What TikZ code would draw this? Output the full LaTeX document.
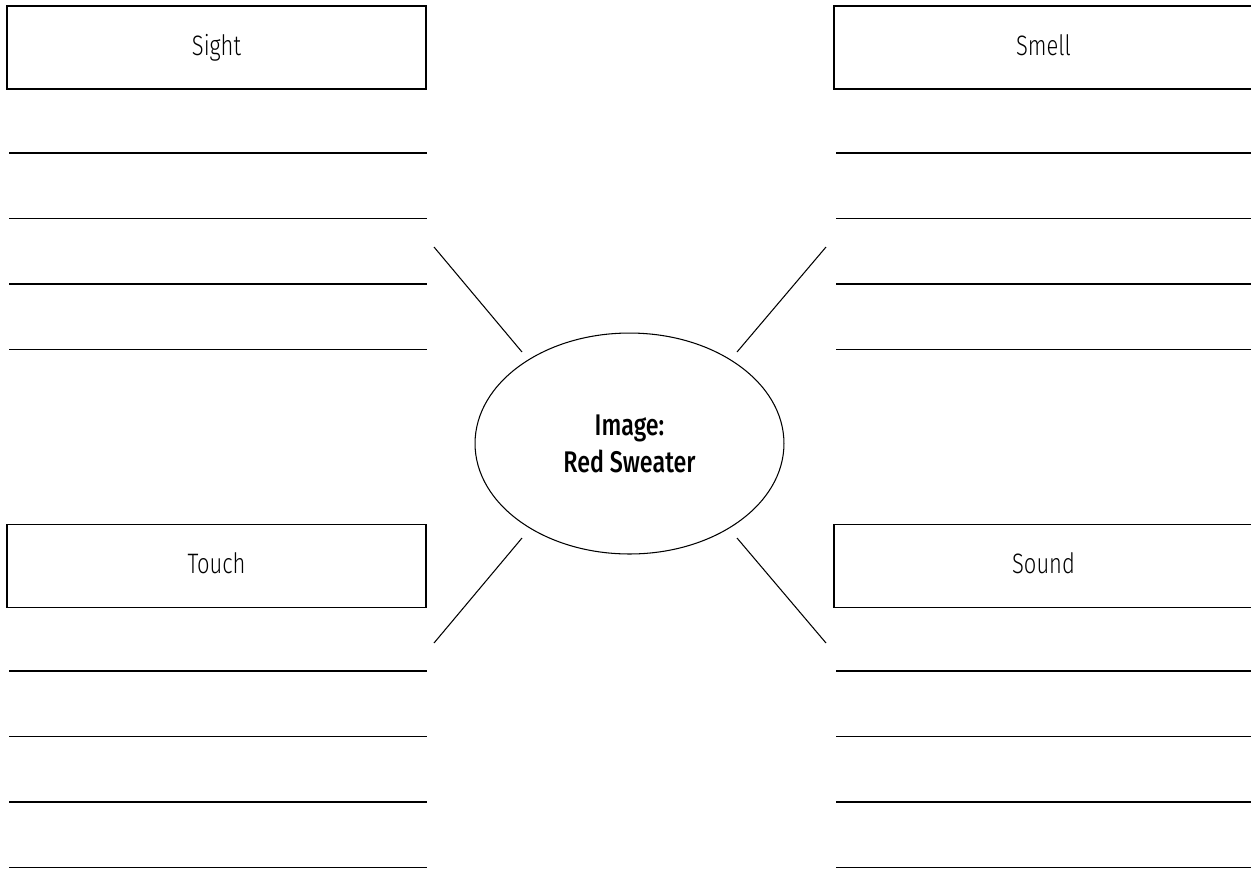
\documentclass[tikz,border=0pt]{standalone}
\usepackage{fontspec}
\setmainfont{Fira Sans}[UprightFont=* Light, BoldFont=* Medium, FakeStretch=0.78]
\usepackage{tikz}
\usetikzlibrary{shapes.geometric}
\newcommand{\inkcolor}{black}
\newcommand{\rulewidth}{0.8pt}
\newcommand{\spokewidth}{0.6pt}
\newcommand{\boxw}{8.38cm}
\newcommand{\boxh}{1.66cm}
\newcommand{\sensefont}{\fontsize{16}{19}\selectfont}

\begin{document}
\begin{tikzpicture}[x=0.02cm, y=-0.02cm]
\useasboundingbox (0,0) rectangle (1251,870);
\clip (0,0) rectangle (1251,870);
%boxes
\node[draw=\inkcolor, line width=\rulewidth, minimum width=\boxw, minimum height=\boxh, text height=0.86em, text depth=0em, font=\sensefont] (sight) at (216.5, 47.5) {Sight};
\node[draw=\inkcolor, line width=\rulewidth, minimum width=\boxw, minimum height=\boxh, text height=0.86em, text depth=0em, font=\sensefont] (smell) at (1043.5, 47.5) {Smell};
\node[draw=\inkcolor, line width=\rulewidth, minimum width=\boxw, minimum height=\boxh, text height=0.86em, text depth=0em, font=\sensefont] (touch) at (216.5, 566) {Touch};
\node[draw=\inkcolor, line width=\rulewidth, minimum width=\boxw, minimum height=\boxh, text height=0.86em, text depth=0em, font=\sensefont] (sound) at (1043.5, 566) {Sound};
%center
\node[draw=\inkcolor, line width=\spokewidth, ellipse, minimum width=6.18cm, minimum height=4.42cm, inner sep=0pt, align=center, font=\fontsize{17}{21}\selectfont\bfseries] (img) at (629.5, 443.5) {Image:\\Red Sweater};
%spokes
\coordinate (nwin) at (522, 352);
\coordinate (nwout) at (434, 247);
\coordinate (nein) at (737, 352);
\coordinate (neout) at (826, 247);
\coordinate (swin) at (522, 538);
\coordinate (swout) at (434, 643);
\coordinate (sein) at (737, 538);
\coordinate (seout) at (826, 643);
\draw[\inkcolor] [line width=\spokewidth] (nwin) -- (nwout);
\draw[\inkcolor] [line width=\spokewidth] (nein) -- (neout);
\draw[\inkcolor] [line width=\spokewidth] (swin) -- (swout);
\draw[\inkcolor] [line width=\spokewidth] (sein) -- (seout);
%writing lines, top
\draw[\inkcolor] [line width=\rulewidth] (9, 153) -- (427, 153);
\draw[\inkcolor] [line width=\rulewidth] (9, 218.4) -- (427, 218.4);
\draw[\inkcolor] [line width=\rulewidth] (9, 283.8) -- (427, 283.8);
\draw[\inkcolor] [line width=\rulewidth] (9, 349.2) -- (427, 349.2);
\draw[\inkcolor] [line width=\rulewidth] (836, 153) -- (1254, 153);
\draw[\inkcolor] [line width=\rulewidth] (836, 218.4) -- (1254, 218.4);
\draw[\inkcolor] [line width=\rulewidth] (836, 283.8) -- (1254, 283.8);
\draw[\inkcolor] [line width=\rulewidth] (836, 349.2) -- (1254, 349.2);
%writing lines, bottom
\draw[\inkcolor] [line width=\rulewidth] (9, 671) -- (427, 671);
\draw[\inkcolor] [line width=\rulewidth] (9, 736.4) -- (427, 736.4);
\draw[\inkcolor] [line width=\rulewidth] (9, 801.8) -- (427, 801.8);
\draw[\inkcolor] [line width=\rulewidth] (9, 867.2) -- (427, 867.2);
\draw[\inkcolor] [line width=\rulewidth] (836, 671) -- (1254, 671);
\draw[\inkcolor] [line width=\rulewidth] (836, 736.4) -- (1254, 736.4);
\draw[\inkcolor] [line width=\rulewidth] (836, 801.8) -- (1254, 801.8);
\draw[\inkcolor] [line width=\rulewidth] (836, 867.2) -- (1254, 867.2);
\end{tikzpicture}
\end{document}
